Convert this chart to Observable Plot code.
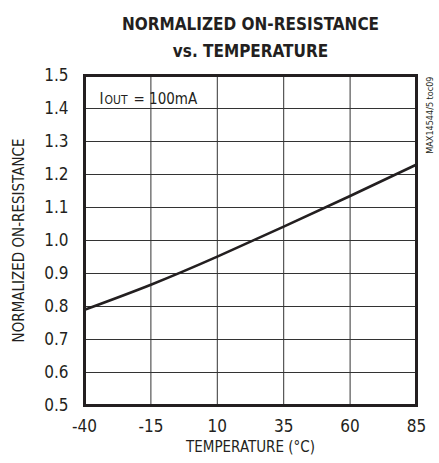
<!DOCTYPE html>
<html>
<head>
<meta charset="utf-8">
<script src="https://cdn.jsdelivr.net/npm/d3@7"></script>
<script src="https://cdn.jsdelivr.net/npm/@observablehq/plot@0.6"></script>
<style>
  html, body { margin: 0; padding: 0; background: #fff; }
</style>
</head>
<body>
<div id="chart"></div>
<script>
const temperature = [-40, -15, 10, 35, 60, 85];
const resistance = [0.79, 0.866, 0.951, 1.042, 1.135, 1.23];
const xTicks = [-40, -15, 10, 35, 60, 85];
const yTicks = [0.5, 0.6, 0.7, 0.8, 0.9, 1.0, 1.1, 1.2, 1.3, 1.4, 1.5];
const titleLines = ["NORMALIZED ON-RESISTANCE", "vs. TEMPERATURE"];
const xLabel = "TEMPERATURE (°C)";
const yLabel = "NORMALIZED ON-RESISTANCE";
const annotationMain = "I";
const annotationSub = "OUT";
const annotationRest = "= 100mA";
const sideNote = "MAX14544/5 toc09";

const data = temperature.map((t, i) => ({t, r: resistance[i]}));
const font = "'Liberation Sans Narrow', 'DejaVu Sans Condensed', 'Liberation Sans', sans-serif";
const ink = "#231f20";

const chart = Plot.plot({
  width: 439,
  height: 463,
  marginLeft: 84,
  marginRight: 23,
  marginTop: 75,
  marginBottom: 58,
  style: {fontFamily: font, fontSize: "14px", color: ink, background: "#fff", fontStretch: "condensed"},
  x: {domain: [-40, 85], ticks: xTicks, tickFormat: d => String(d), label: null},
  y: {domain: [0.5, 1.5], ticks: yTicks, tickFormat: d => d.toFixed(1), label: null},
  marks: [
    Plot.ruleX(xTicks, {stroke: "#333", strokeWidth: 1}),
    Plot.ruleY(yTicks, {stroke: "#333", strokeWidth: 1}),
    Plot.line(data, {x: "t", y: "r", stroke: ink, strokeWidth: 2.6, curve: "natural"}),
    Plot.frame({stroke: ink, strokeWidth: 3}),
    Plot.axisX({ticks: xTicks, tickSize: 0, tickPadding: 14, fontSize: 17, tickFormat: d => String(d)}),
    Plot.axisY({ticks: yTicks, tickSize: 0, tickPadding: 16, fontSize: 17, tickFormat: d => d.toFixed(1)}),
    Plot.text([titleLines[0]], {frameAnchor: "top", dy: -58, text: d => d, fontSize: 17, fontWeight: "bold", fill: ink}),
    Plot.text([titleLines[1]], {frameAnchor: "top", dy: -31, text: d => d, fontSize: 17, fontWeight: "bold", fill: ink}),
    Plot.text([xLabel], {frameAnchor: "bottom", dy: 46, text: d => d, fontSize: 15, fill: ink}),
    Plot.text([yLabel], {frameAnchor: "left", dx: -65, rotate: -90, textAnchor: "middle", text: d => d, fontSize: 15, fill: ink}),
    Plot.text([annotationMain], {frameAnchor: "top-left", dx: 15, dy: 18, textAnchor: "start", text: d => d, fontSize: 15, fill: ink}),
    Plot.text([annotationSub], {frameAnchor: "top-left", dx: 20, dy: 20, textAnchor: "start", text: d => d, fontSize: 12, fill: ink}),
    Plot.text([annotationRest], {frameAnchor: "top-left", dx: 49, dy: 18, textAnchor: "start", text: d => d, fontSize: 15, fill: ink}),
    Plot.text([sideNote], {frameAnchor: "top-right", dx: 10, dy: 1, rotate: -90, textAnchor: "end", text: d => d, fontSize: 9, fill: ink})
  ]
});
document.getElementById("chart").appendChild(chart);
</script>
</body>
</html>
